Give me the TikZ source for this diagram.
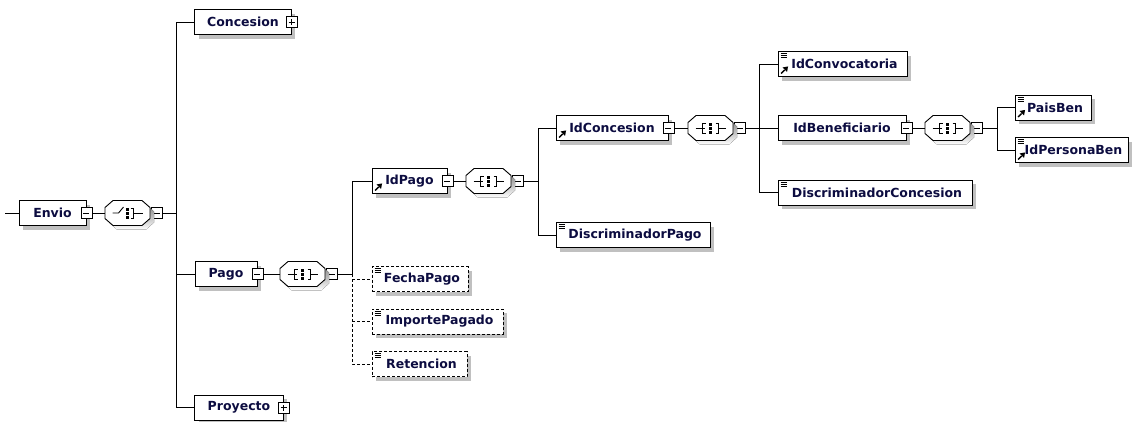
\documentclass[tikz,border=0pt]{standalone}
\usepackage{fontspec}
\setmainfont{DejaVu Sans}
\usetikzlibrary{shadows,positioning}

\definecolor{elemtext}{RGB}{12,12,64}
\definecolor{shade}{RGB}{192,192,192}

\tikzset{
  wire/.style={line width=.9pt},
  optwire/.style={wire, dash pattern=on 3pt off 2pt},
  elem/.style={draw, line width=.9pt, fill=white, minimum height=25, inner xsep=2,
    font=\fontsize{12.5}{15}\selectfont\bfseries, text=elemtext,
    drop shadow={shadow xshift=4pt, shadow yshift=-4pt, fill=shade, opacity=1}},
  optelem/.style={elem, dash pattern=on 3pt off 2pt},
  pad/.style={execute at begin node={\hspace*{4pt}}},
  comp/.style={minimum width=45, minimum height=25, inner sep=0},
  togminus/.style={draw, line width=.8pt, fill=white, minimum size=11, inner sep=0,
    path picture={\draw ([xshift=2.5]path picture bounding box.west) -- ([xshift=-2.5]path picture bounding box.east);}},
  togplus/.style={draw, line width=.8pt, fill=white, minimum size=11, inner sep=0,
    path picture={\draw ([xshift=2.5]path picture bounding box.west) -- ([xshift=-2.5]path picture bounding box.east);
      \draw ([yshift=2.5]path picture bounding box.south) -- ([yshift=-2.5]path picture bounding box.north);}}
}

% octagon of a compositor, with its shadow
\newcommand\compshape{%
  \fill[shade, shift={(4,4)}] (-22.5,-5.5) -- (-14.5,-12.5) -- (14.5,-12.5) -- (22.5,-5.5)
    -- (22.5,5.5) -- (14.5,12.5) -- (-14.5,12.5) -- (-22.5,5.5) -- cycle;
  \draw[line width=.9pt, fill=white] (-22.5,-5.5) -- (-14.5,-12.5) -- (14.5,-12.5) -- (22.5,-5.5)
    -- (22.5,5.5) -- (14.5,12.5) -- (-14.5,12.5) -- (-22.5,5.5) -- cycle;}
\newcommand\seqmark[1]{%
  \begin{scope}[shift={(#1.center)}]
    \compshape
    \draw[wire] (-15,0) -- (-6,0) (8,0) -- (15,0);
    \draw[line width=.8pt] (-5,-5) -- (-8,-5) -- (-8,5) -- (-5,5) (5,-5) -- (8,-5) -- (8,5) -- (5,5);
    \foreach \d in {-4,0,4} \fill (-1.5,\d-1.5) rectangle ++(3,3);
  \end{scope}}
\newcommand\choicemark[1]{%
  \begin{scope}[shift={(#1.center)}]
    \compshape
    \draw[wire] (-15,0) -- (-9,0) -- (-4,-6);
    \draw[line width=.8pt] (3,-5) -- (6,-5) -- (6,5) -- (3,5);
    \draw[wire] (6,0) -- (15,0);
    \foreach \d in {-4,0,4} \fill (-1.5,\d-1.5) rectangle ++(3,3);
  \end{scope}}
\newcommand\simpmark[1]{%
  \foreach \d in {2.5,4.5,6.5}
    \draw[line width=.6pt] ([shift={(3,\d)}]#1.north west) -- ++(6,0);}
\newcommand\refmark[1]{%
  \begin{scope}[shift={(#1.south west)}]
    \draw[line width=1.4pt] (3.5,-3.5) -- (7,-7);
    \fill (10.5,-10.5) -- (5,-9.5) -- (9.5,-5) -- cycle;
  \end{scope}}

\begin{document}
\begin{tikzpicture}[x=1pt,y=-1pt]
  \useasboundingbox (0,0) rectangle (1134,421);

  % root
  \coordinate (root) at (5,213);
  \node[elem, minimum width=67] (envio) at (52.5,213) {Envio};
  \node[togminus] (envio-t) at (envio.east) {};
  \node[comp] (envioc) at (127.5,213) {};
  \node[togminus, right=1pt of envioc] (envioc-t) {};
  \coordinate[right=13pt of envioc-t] (enviobus);

  % children of Envio
  \node[elem, minimum width=96.5] (concesion) at (243,22) {Concesion};
  \node[togplus] (concesion-t) at (concesion.east) {};
  \node[elem, minimum width=62] (pago) at (226,274) {Pago};
  \node[togminus] (pago-t) at (pago.east) {};
  \node[elem, minimum width=88.5] (proyecto) at (239,407.5) {Proyecto};
  \node[togplus] (proyecto-t) at (proyecto.east) {};

  % Pago
  \node[comp] (pagoc) at (302.5,274) {};
  \node[togminus, right=1pt of pagoc] (pagoc-t) {};
  \coordinate[right=14pt of pagoc-t] (pagobus);
  \node[elem, minimum width=75] (idpago) at (409.5,181) {IdPago};
  \node[togminus] (idpago-t) at (idpago.east) {};
  \node[optelem, pad, minimum width=96] (fechapago) at (420,279) {FechaPago};
  \node[optelem, pad, minimum width=131] (importepagado) at (437.5,321.5) {ImportePagado};
  \node[optelem, pad, minimum width=95] (retencion) at (419.5,364) {Retencion};

  % IdPago
  \node[comp] (idpagoc) at (488.5,181) {};
  \node[togminus, right=1pt of idpagoc] (idpagoc-t) {};
  \coordinate[right=14pt of idpagoc-t] (idpagobus);
  \node[elem, minimum width=112] (idconcesion) at (612,128) {IdConcesion};
  \node[togminus] (idconcesion-t) at (idconcesion.east) {};
  \node[elem, pad, minimum width=154] (discpago) at (633,235) {DiscriminadorPago};

  % IdConcesion
  \node[comp] (idconcc) at (710.5,128) {};
  \node[togminus, right=1pt of idconcc] (idconcc-t) {};
  \coordinate[right=13pt of idconcc-t] (idconcbus);
  \node[elem, pad, minimum width=129] (idconv) at (842.5,64) {IdConvocatoria};
  \node[elem, minimum width=128] (idbenef) at (842,128) {IdBeneficiario};
  \node[togminus] (idbenef-t) at (idbenef.east) {};
  \node[elem, pad, minimum width=194] (discconc) at (875,192.5) {DiscriminadorConcesion};

  % IdBeneficiario
  \node[comp] (idbenc) at (947.5,128) {};
  \node[togminus, right=1pt of idbenc] (idbenc-t) {};
  \coordinate[right=14pt of idbenc-t] (idbenbus);
  \node[elem, pad, minimum width=76] (paisben) at (1053,107.5) {PaisBen};
  \node[elem, pad, minimum width=113] (idpersben) at (1071.5,150) {IdPersonaBen};

  % compositors
  \choicemark{envioc}
  \seqmark{pagoc}
  \seqmark{idpagoc}
  \seqmark{idconcc}
  \seqmark{idbenc}

  % box marks
  \foreach \n in {idconv,discconc,discpago,fechapago,importepagado,retencion,paisben,idpersben}
    \simpmark{\n};
  \foreach \n in {idpago,idconcesion,idconv,paisben,idpersben}
    \refmark{\n};

  % connectors
  \draw[wire] (root) -- (envio.west);
  \draw[wire] (envio-t.east) -- (envioc.west);
  \draw[wire] (envioc-t.east) -- (enviobus);
  \draw[wire] (concesion.west) -| (enviobus);
  \draw[wire] (pago.west) -| (enviobus);
  \draw[wire] (proyecto.west) -| (enviobus);

  \draw[wire] (pago-t.east) -- (pagoc.west);
  \draw[wire] (pagoc-t.east) -- (pagobus);
  \draw[wire] (idpago.west) -| (pagobus);
  \draw[optwire] (pagobus) |- (retencion.west);
  \draw[optwire] (pagobus |- fechapago.west) -- (fechapago.west);
  \draw[optwire] (pagobus |- importepagado.west) -- (importepagado.west);

  \draw[wire] (idpago-t.east) -- (idpagoc.west);
  \draw[wire] (idpagoc-t.east) -- (idpagobus);
  \draw[wire] (idconcesion.west) -| (idpagobus);
  \draw[wire] (discpago.west) -| (idpagobus);

  \draw[wire] (idconcesion-t.east) -- (idconcc.west);
  \draw[wire] (idconcc-t.east) -- (idconcbus);
  \draw[wire] (idconv.west) -| (idconcbus);
  \draw[wire] (idbenef.west) -- (idconcbus);
  \draw[wire] (discconc.west) -| (idconcbus);

  \draw[wire] (idbenef-t.east) -- (idbenc.west);
  \draw[wire] (idbenc-t.east) -- (idbenbus);
  \draw[wire] (paisben.west) -| (idbenbus);
  \draw[wire] (idpersben.west) -| (idbenbus);
\end{tikzpicture}
\end{document}
